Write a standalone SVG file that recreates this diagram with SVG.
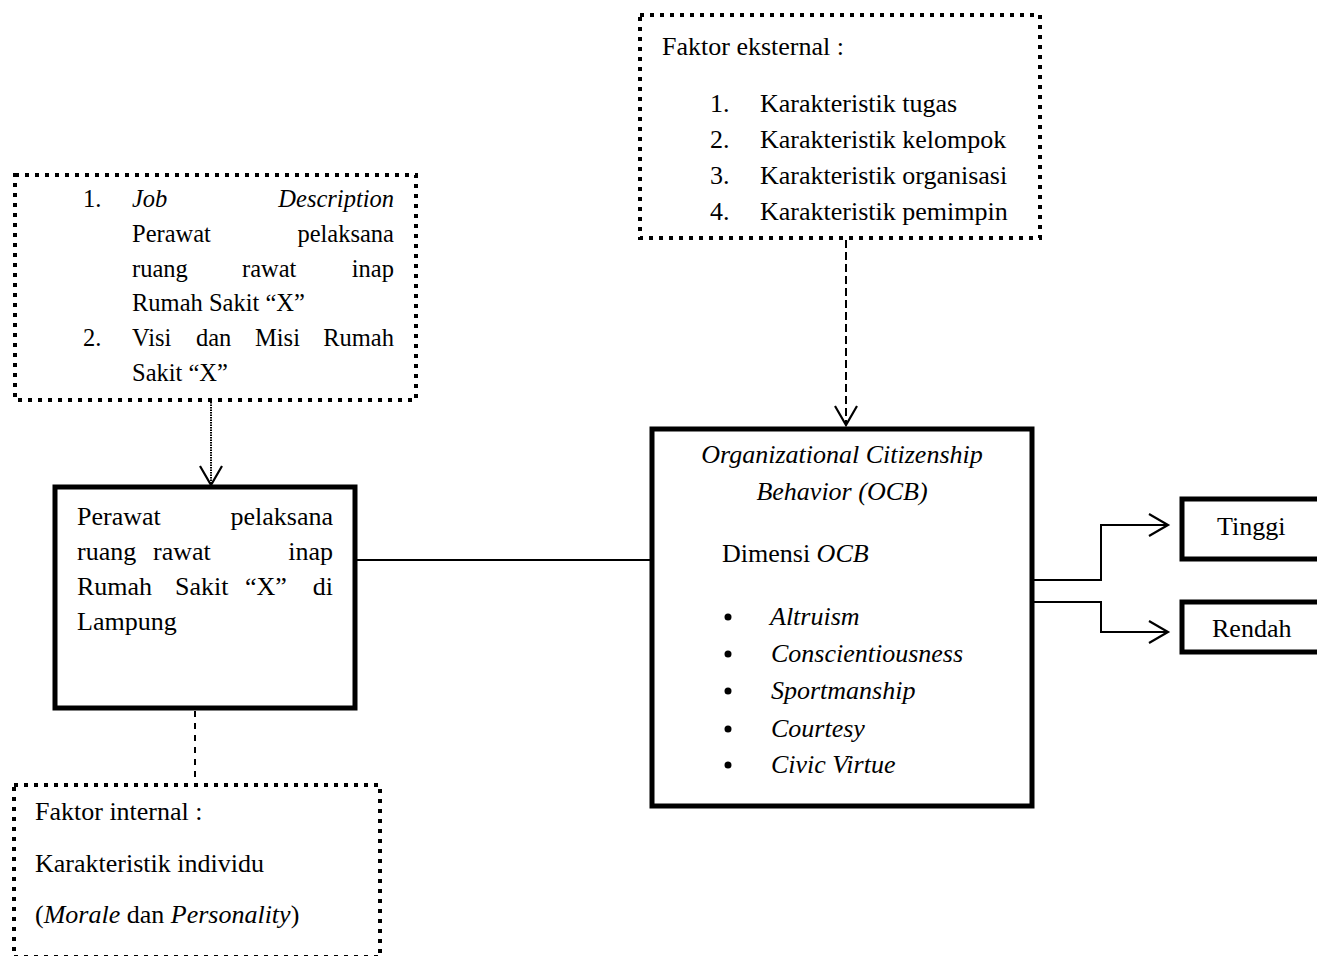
<svg xmlns="http://www.w3.org/2000/svg" width="1317" height="956" viewBox="0 0 1317 956">
<style>
text{font-family:"Liberation Serif","Times New Roman",serif;font-size:26px;fill:#000}
.sm text{font-size:24.5px}
.it{font-style:italic}
.dotbox{fill:#fff;stroke:#000;stroke-width:4;stroke-dasharray:4 6}
.solid{fill:#fff;stroke:#000;stroke-width:5}
.ln{fill:none;stroke:#000;stroke-width:2}
.e{text-anchor:end}
.m{text-anchor:middle}
</style>
<defs>
<marker id="arr" markerUnits="userSpaceOnUse" markerWidth="24" markerHeight="24" refX="20" refY="12" orient="auto" overflow="visible">
<path d="M1,1 L20,12 L1,23" fill="none" stroke="#000" stroke-width="2.2"/>
</marker>
</defs>

<g id="connectors">
<line class="ln" x1="211" y1="402" x2="211" y2="485" stroke-dasharray="1.5 1" marker-end="url(#arr)"/>
<line class="ln" x1="846" y1="240" x2="846" y2="425" stroke-dasharray="8 4" marker-end="url(#arr)"/>
<line class="ln" x1="195" y1="711" x2="195" y2="784" stroke-dasharray="6 6"/>
<line class="ln" x1="357" y1="560" x2="650" y2="560"/>
<polyline class="ln" points="1034,580 1101,580 1101,525 1168,525" marker-end="url(#arr)"/>
<polyline class="ln" points="1034,602 1101,602 1101,632 1168,632" marker-end="url(#arr)"/>
</g>

<g id="job-description" class="sm">
<rect class="dotbox" x="15" y="175" width="401" height="225"/>
<text x="83" y="207">1.</text>
<text x="132" y="207" class="it">Job</text>
<text x="394" y="207" class="it e">Description</text>
<text x="132" y="242">Perawat</text>
<text x="394" y="242" class="e">pelaksana</text>
<text x="132" y="277">ruang</text>
<text x="242" y="277">rawat</text>
<text x="394" y="277" class="e">inap</text>
<text x="132" y="311">Rumah Sakit “X”</text>
<text x="83" y="346">2.</text>
<text x="132" y="346">Visi</text>
<text x="196" y="346">dan</text>
<text x="255" y="346">Misi</text>
<text x="394" y="346" class="e">Rumah</text>
<text x="132" y="381">Sakit “X”</text>
</g>

<g id="faktor-eksternal">
<rect class="dotbox" x="640" y="15" width="400" height="223"/>
<text x="662" y="55">Faktor eksternal :</text>
<text x="710" y="112">1.</text><text x="760" y="112">Karakteristik tugas</text>
<text x="710" y="148">2.</text><text x="760" y="148">Karakteristik kelompok</text>
<text x="710" y="184">3.</text><text x="760" y="184">Karakteristik organisasi</text>
<text x="710" y="220">4.</text><text x="760" y="220">Karakteristik pemimpin</text>
</g>

<g id="perawat">
<rect class="solid" x="55" y="487" width="300" height="221"/>
<text x="77" y="525">Perawat</text>
<text x="333" y="525" class="e">pelaksana</text>
<text x="77" y="560">ruang</text>
<text x="153" y="560">rawat</text>
<text x="333" y="560" class="e">inap</text>
<text x="77" y="595">Rumah</text>
<text x="175" y="595">Sakit</text>
<text x="245" y="595">“X”</text>
<text x="333" y="595" class="e">di</text>
<text x="77" y="630">Lampung</text>
</g>

<g id="faktor-internal">
<rect class="dotbox" x="14" y="785" width="366" height="172"/>
<text x="35" y="820">Faktor internal :</text>
<text x="35" y="872">Karakteristik individu</text>
<text x="35" y="923">(<tspan class="it">Morale</tspan> dan <tspan class="it">Personality</tspan>)</text>
</g>

<g id="ocb">
<rect class="solid" x="652" y="429" width="380" height="377"/>
<text x="842" y="463" class="it m">Organizational Citizenship</text>
<text x="842" y="500" class="it m">Behavior (OCB)</text>
<text x="722" y="562">Dimensi <tspan class="it">OCB</tspan></text>
<circle cx="728" cy="617" r="3.5"/><text x="770" y="625" class="it">Altruism</text>
<circle cx="728" cy="654" r="3.5"/><text x="771" y="662" class="it">Conscientiousness</text>
<circle cx="728" cy="691" r="3.5"/><text x="771" y="699" class="it">Sportmanship</text>
<circle cx="728" cy="729" r="3.5"/><text x="771" y="737" class="it">Courtesy</text>
<circle cx="728" cy="765" r="3.5"/><text x="771" y="773" class="it">Civic Virtue</text>
</g>

<g id="tinggi">
<rect class="solid" x="1182" y="499" width="150" height="60"/>
<text x="1217" y="535">Tinggi</text>
</g>

<g id="rendah">
<rect class="solid" x="1182" y="602" width="150" height="50"/>
<text x="1212" y="637">Rendah</text>
</g>
</svg>
